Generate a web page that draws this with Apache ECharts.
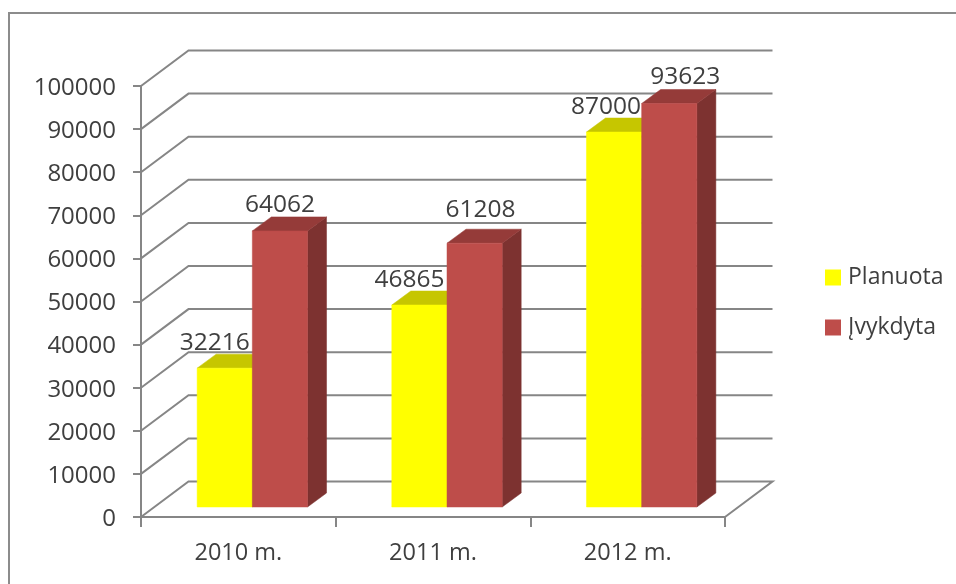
<!DOCTYPE html>
<html>
<head>
<meta charset="utf-8">
<style>html,body{margin:0;padding:0;background:#fff}#c{width:956px;height:584px}</style>
<script src="https://cdn.jsdelivr.net/npm/echarts@6/dist/echarts.min.js"></script>
</head>
<body>
<div id="c"></div>
<script>
var categories = ['2010 m.', '2011 m.', '2012 m.'];
var planuota = [32216, 46865, 87000];
var ivykdyta = [64062, 61208, 93623];
var tickValues = [0, 10000, 20000, 30000, 40000, 50000, 60000, 70000, 80000, 90000, 100000];

var FONT = '"Open Sans", sans-serif';
var TEXT = '#3f3f3f', LINE = '#868686';
var WALL_DX = 47.5, WALL_DY = 35.5;       // wall depth
var BAR_IN_X = 14, BAR_IN_Y = 10;         // bar set back from front plane
var BAR_DX = 19, BAR_DY = 14;             // bar depth
var BAR_RATIO = 0.2835;
// manual nudges of the data labels [dx, dy] relative to bar front top centre
var planLabelNudge = [[-10, -25], [-10, -25], [-8, -25]];
var doneLabelNudge = [[0, -26], [6, -33], [16, -26]];

function poly(points, fill) {
  return { type: 'polygon', shape: { points: points }, style: { fill: fill, stroke: fill, lineWidth: 0.5 } };
}
function barRenderer(seriesIdx, colors) {
  return function (params, api) {
    var p = api.coord([api.value(0), api.value(1)]);
    var base = api.coord([api.value(0), 0]);
    var w = api.size([1, 0])[0] * BAR_RATIO;
    var x0 = p[0] + BAR_IN_X + (seriesIdx === 0 ? -w : 0);
    var x1 = x0 + w;
    var yb = base[1] - BAR_IN_Y, yt = p[1] - BAR_IN_Y;
    return { type: 'group', children: [
      poly([[x1, yb], [x1 + BAR_DX, yb - BAR_DY], [x1 + BAR_DX, yt - BAR_DY], [x1, yt]], colors.side),
      poly([[x0, yt], [x1, yt], [x1 + BAR_DX, yt - BAR_DY], [x0 + BAR_DX, yt - BAR_DY]], colors.top),
      poly([[x0, yb], [x1, yb], [x1, yt], [x0, yt]], colors.front)
    ] };
  };
}
function labelRenderer(seriesIdx, nudges) {
  return function (params, api) {
    var p = api.coord([api.value(0), api.value(1)]);
    var w = api.size([1, 0])[0] * BAR_RATIO;
    var x0 = p[0] + BAR_IN_X + (seriesIdx === 0 ? -w : 0);
    var n = nudges[params.dataIndex];
    return { type: 'text', style: {
      text: String(api.value(1)), x: x0 + w / 2 + n[0], y: p[1] - BAR_IN_Y + n[1],
      align: 'center', verticalAlign: 'middle', font: '24.5px ' + FONT, fill: TEXT
    } };
  };
}
function wallRenderer(params, api) {
  var cs = params.coordSys;
  var y = api.coord([0, api.value(1)])[1];
  var st = { stroke: LINE, lineWidth: 2, fill: 'none' };
  var pts = [[cs.x, y], [cs.x + WALL_DX, y - WALL_DY], [cs.x + cs.width + WALL_DX, y - WALL_DY]];
  if (api.value(1) === 0) pts.push([cs.x + cs.width, y]);
  return { type: 'polyline', shape: { points: pts }, style: st };
}
function pairs(arr) { return arr.map(function (v, i) { return [i, v]; }); }

var RED = { front: '#be4d4a', side: '#7d3230', top: '#953b39' };
var YEL = { front: '#ffff00', side: '#b5b500', top: '#c6c600' };

var option = {
  animation: false,
  backgroundColor: '#ffffff',
  grid: { left: 141, top: 86, width: 584, height: 431 },
  xAxis: {
    type: 'category', data: categories,
    axisLine: { lineStyle: { color: LINE, width: 2 } },
    axisTick: { show: true, length: 10, lineStyle: { color: LINE, width: 2 } },
    axisLabel: { color: TEXT, fontFamily: FONT, fontSize: 23.5, margin: 24 }
  },
  yAxis: {
    type: 'value', min: 0, max: 100000, interval: 10000,
    axisLine: { show: true, lineStyle: { color: LINE, width: 2 } },
    axisTick: { show: true, length: 8, lineStyle: { color: LINE, width: 2 } },
    axisLabel: { color: TEXT, fontFamily: FONT, fontSize: 24, margin: 25,
      verticalAlign: 'top', padding: [-10, 0, 0, 0],
      formatter: function (v) { return String(v); } },
    splitLine: { show: false }
  },
  legend: {
    orient: 'vertical', left: 825, top: 266, padding: 0, itemWidth: 16, itemHeight: 16, itemGap: 27,
    icon: 'rect', data: ['Planuota', 'Įvykdyta'],
    textStyle: { color: TEXT, fontFamily: FONT, fontSize: 23, padding: [0, 0, 0, 2] }
  },
  graphic: [
    { type: 'polyline', silent: true, shape: { points: [[9, 584], [9, 13], [956, 13]] },
      style: { stroke: '#8c8c8c', lineWidth: 2, fill: 'none' } }
  ],
  series: [
    { type: 'custom', name: 'walls', silent: true, z: 1, data: pairs(tickValues), renderItem: wallRenderer },
    { type: 'custom', name: 'Planuota', silent: true, z: 2, itemStyle: { color: YEL.front },
      data: pairs(planuota), renderItem: barRenderer(0, YEL) },
    { type: 'custom', name: 'Įvykdyta', silent: true, z: 3, itemStyle: { color: RED.front },
      data: pairs(ivykdyta), renderItem: barRenderer(1, RED) },
    { type: 'custom', name: 'labelsPlan', silent: true, z: 5, data: pairs(planuota), renderItem: labelRenderer(0, planLabelNudge) },
    { type: 'custom', name: 'labelsDone', silent: true, z: 5, data: pairs(ivykdyta), renderItem: labelRenderer(1, doneLabelNudge) }
  ]
};
echarts.init(document.getElementById('c'), null, { renderer: 'canvas' }).setOption(option);
</script>
</body>
</html>
